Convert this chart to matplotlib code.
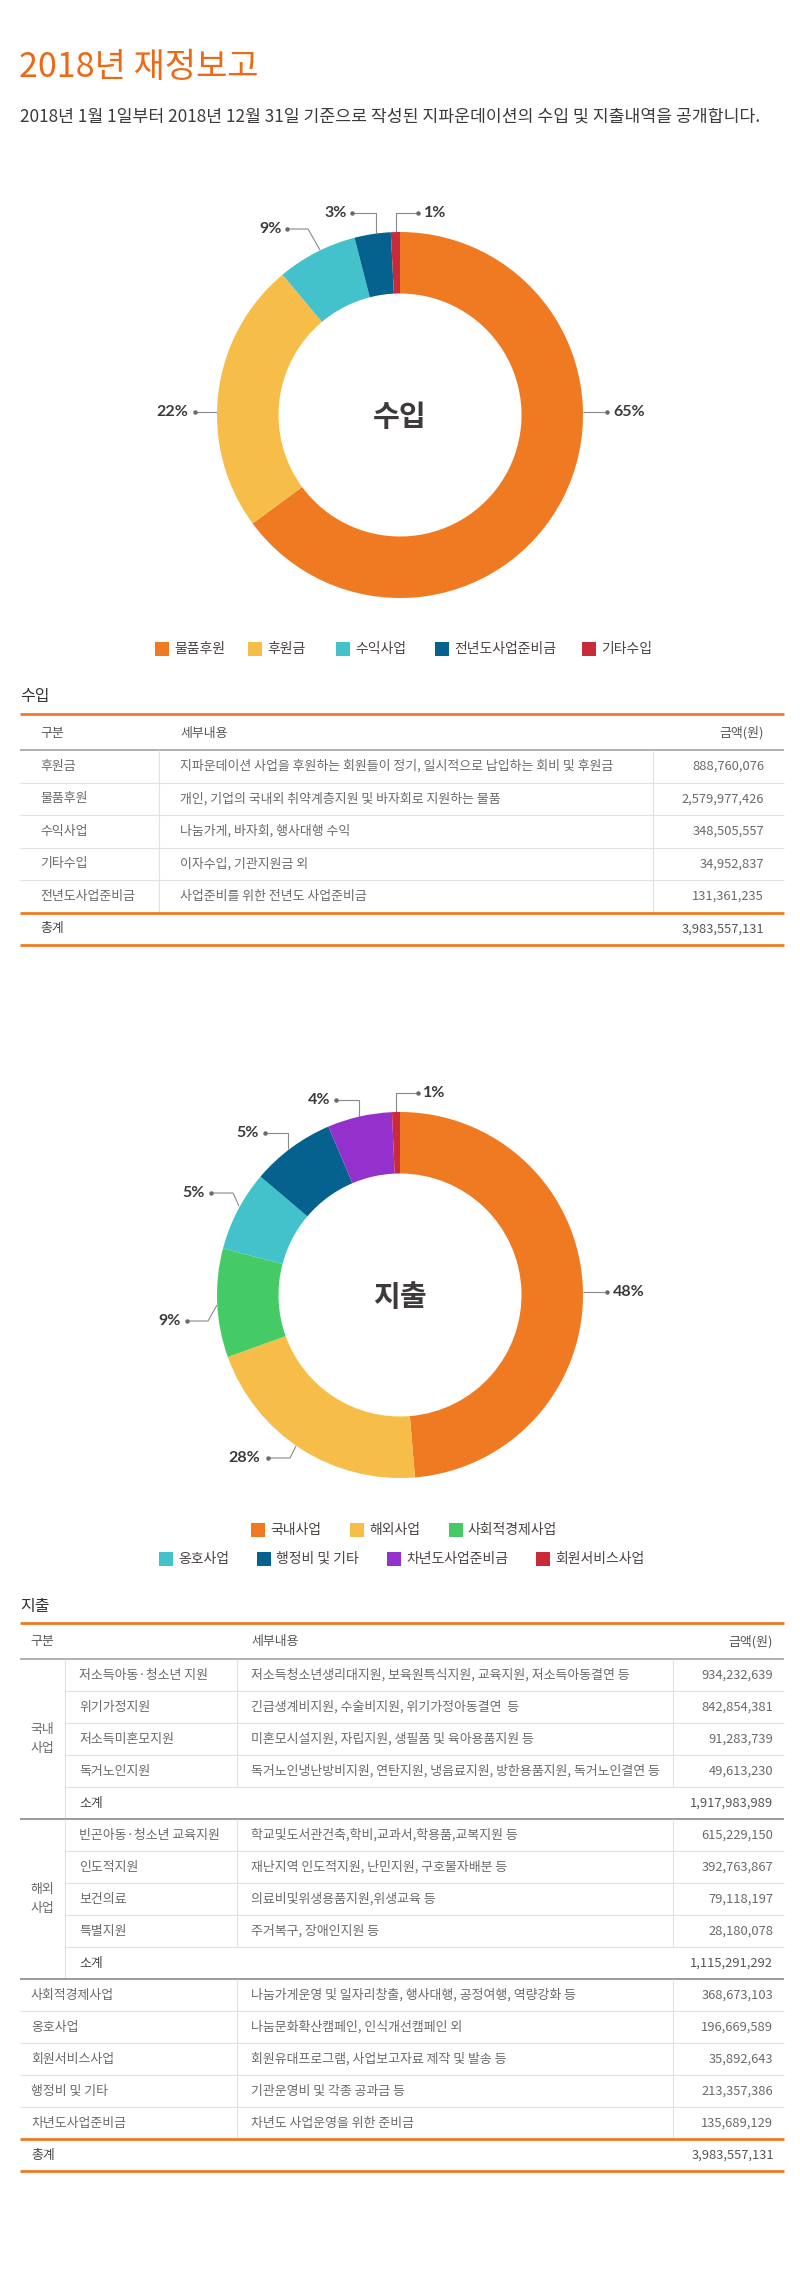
import matplotlib
matplotlib.use("Agg")
import matplotlib.pyplot as plt
from matplotlib.patches import Rectangle

plt.rcParams['font.family'] = ['Noto Sans CJK KR', 'DejaVu Sans']

# ================================================================
# DATA
# ================================================================

title = "2018년 재정보고"
subtitle = ("2018년 1월 1일부터 2018년 12월 31일 기준으로 작성된 "
            "지파운데이션의 수입 및 지출내역을 공개합니다.")

# income donut (clockwise from 12 o'clock), shares
inc_names  = ["물품후원", "후원금", "수익사업", "전년도사업준비금", "기타수입"]
inc_share  = [64.9, 24.0, 7.1, 3.2, 0.8]
inc_pct    = ["65%", "22%", "9%", "3%", "1%"]
inc_colors = ["#F07A22", "#F6BD49", "#44C2CB", "#05628F", "#C92B3A"]

# expense donut (clockwise from 12 o'clock)
exp_names  = ["국내사업", "해외사업", "사회적경제사업", "옹호사업",
              "행정비 및 기타", "차년도사업준비금", "회원서비스사업"]
exp_share  = [48.7, 20.8, 9.6, 7.1, 7.4, 5.7, 0.7]
exp_pct    = ["48%", "28%", "9%", "5%", "5%", "4%", "1%"]
exp_colors = ["#F07A22", "#F6BD49", "#45CB65", "#44C2CB",
              "#05628F", "#9430CB", "#C92B3A"]

# income table
inc_rows = ["후원금", "물품후원", "수익사업", "기타수입", "전년도사업준비금"]
inc_desc = [
    "지파운데이션 사업을 후원하는 회원들이 정기, 일시적으로 납입하는 회비 및 후원금",
    "개인, 기업의 국내외 취약계층지원 및 바자회로 지원하는 물품",
    "나눔가게, 바자회, 행사대행 수익",
    "이자수입, 기관지원금 외",
    "사업준비를 위한 전년도 사업준비금",
]
inc_amt = ["888,760,076", "2,579,977,426", "348,505,557",
           "34,952,837", "131,361,235"]
inc_total = "3,983,557,131"

# expense table
dom_rows = ["저소득아동·청소년 지원", "위기가정지원", "저소득미혼모지원", "독거노인지원"]
dom_desc = [
    "저소득청소년생리대지원, 보육원특식지원, 교육지원, 저소득아동결연 등",
    "긴급생계비지원, 수술비지원, 위기가정아동결연  등",
    "미혼모시설지원, 자립지원, 생필품 및 육아용품지원 등",
    "독거노인냉난방비지원, 연탄지원, 냉음료지원, 방한용품지원, 독거노인결연 등",
]
dom_amt = ["934,232,639", "842,854,381", "91,283,739", "49,613,230"]
dom_sub = "1,917,983,989"

ovs_rows = ["빈곤아동·청소년 교육지원", "인도적지원", "보건의료", "특별지원"]
ovs_desc = [
    "학교및도서관건축,학비,교과서,학용품,교복지원 등",
    "재난지역 인도적지원, 난민지원, 구호물자배분 등",
    "의료비및위생용품지원,위생교육 등",
    "주거복구, 장애인지원 등",
]
ovs_amt = ["615,229,150", "392,763,867", "79,118,197", "28,180,078"]
ovs_sub = "1,115,291,292"

etc_rows = ["사회적경제사업", "옹호사업", "회원서비스사업", "행정비 및 기타", "차년도사업준비금"]
etc_desc = [
    "나눔가게운영 및 일자리창출, 행사대행, 공정여행, 역량강화 등",
    "나눔문화확산캠페인, 인식개선캠페인 외",
    "회원유대프로그램, 사업보고자료 제작 및 발송 등",
    "기관운영비 및 각종 공과금 등",
    "차년도 사업운영을 위한 준비금",
]
etc_amt = ["368,673,103", "196,669,589", "35,892,643", "213,357,386", "135,689,129"]
exp_total = "3,983,557,131"


# ================================================================
# CANVAS  (one axes in pixel units, y pointing down)
# ================================================================

W, H = 800, 2270
fig = plt.figure(figsize=(W / 100, H / 100), dpi=100)
ax = fig.add_axes([0, 0, 1, 1])
ax.set_xlim(0, W)
ax.set_ylim(H, 0)
ax.axis("off")

ORANGE = "#F07A22"
DARK = "#3e3a39"
BODY = "#6a6a6a"
PCT_FONT = ["Lato", "DejaVu Sans"]
TS = 9.3   # table font size

ax.text(19, 67, title, fontsize=24.5, color="#EC6A16", fontweight="medium",
        va="center", ha="left")
ax.text(20, 117, subtitle, fontsize=12.4, color=DARK, va="center", ha="left")


# ── donut helper ────────────────────────────────────────────────
R_OUT, R_IN = 183, 121.5

def donut(cx, cy, shares, colors, label):
    a = fig.add_axes([(cx - R_OUT) / W, 1 - (cy + R_OUT) / H,
                      2 * R_OUT / W, 2 * R_OUT / H])
    a.pie(shares, colors=colors, startangle=90, counterclock=False,
          wedgeprops=dict(width=(R_OUT - R_IN) / R_OUT, linewidth=0))
    a.set_xlim(-1, 1)
    a.set_ylim(-1, 1)
    a.axis("off")
    ax.text(cx, cy + 2, label, fontsize=21, fontweight="bold", color=DARK,
            ha="center", va="center")


def leaders(items, labels):
    for lab, (tx, ty, ha), pts in zip(labels, [i[0] for i in items],
                                      [i[1] for i in items]):
        xs = [p[0] for p in pts]
        ys = [p[1] for p in pts]
        ax.plot(xs, ys, color="#8a8a8a", lw=0.8, solid_capstyle="butt")
        ax.plot(xs[0], ys[0], "o", color="#6a6a6a", ms=2.2)
        ax.text(tx, ty, lab, fontsize=11.5, fontweight="bold", color=DARK,
                ha=ha, va="center", family=PCT_FONT)


def legend_row(xs, y, names, colors):
    for x, n, c in zip(xs, names, colors):
        ax.add_patch(Rectangle((x, y - 7), 14, 14, color=c, lw=0))
        ax.text(x + 19, y, n, fontsize=10, color="#4a4442",
                ha="left", va="center")


# ================================================================
# INCOME DONUT
# ================================================================

donut(400, 415, inc_share, inc_colors, "수입")
leaders([
    ((613, 412, "left"),  [(607, 412), (583, 412)]),
    ((188, 412, "right"), [(195, 412), (217, 412)]),
    ((282, 229, "right"), [(287, 229), (308, 229), (320, 250)]),
    ((347, 213, "right"), [(352, 213), (376, 213), (376, 233)]),
    ((424, 213, "left"),  [(418, 213), (396, 213), (396, 233)]),
], inc_pct)
legend_row([155, 248, 336, 435, 582], 649, inc_names, inc_colors)


# ================================================================
# TABLE HELPERS
# ================================================================

X0, X1 = 20, 784

def hline(y, x0=X0, x1=X1, kind="light"):
    style = {"light": ("#e2e2e2", 0.8), "head": ("#aaaaaa", 1.3),
             "dark": ("#8a8a8a", 1.2), "orange": (ORANGE, 2.0)}[kind]
    ax.hlines(y, x0, x1, colors=style[0], lw=style[1])

def vline(x, y0, y1):
    ax.vlines(x, y0, y1, colors="#e2e2e2", lw=0.8)

def cell(x, y, s, ha="left", color=BODY, size=TS):
    ax.text(x, y, s, fontsize=size, color=color, ha=ha, va="center")


# ================================================================
# INCOME TABLE
# ================================================================

cell(20, 696, "수입", color="#333333", size=11.5)
hline(714, kind="orange")
cell(40, 733, "구분", color="#555555")
cell(180, 733, "세부내용", color="#555555")
cell(764, 733, "금액(원)", ha="right", color="#555555")
hline(750, kind="head")

top, rh = 750, 32.5
for i, (n, d, a) in enumerate(zip(inc_rows, inc_desc, inc_amt)):
    yc = top + (i + 0.5) * rh
    cell(40, yc, n)
    cell(180, yc, d)
    cell(764, yc, a, ha="right")
    if i < len(inc_rows) - 1:
        hline(top + (i + 1) * rh)
bot = top + len(inc_rows) * rh
vline(159, top, bot)
vline(653, top, bot)
hline(bot, kind="orange")
cell(40, bot + rh / 2, "총계", color="#444444")
cell(764, bot + rh / 2, inc_total, ha="right", color="#555555")
hline(bot + rh, kind="orange")


# ================================================================
# EXPENSE DONUT
# ================================================================

donut(400, 1295, exp_share, exp_colors, "지출")
leaders([
    ((613, 1292, "left"),  [(607, 1292), (583, 1292)]),
    ((260, 1458, "right"), [(268, 1458), (290, 1458), (296, 1446)]),
    ((181, 1321, "right"), [(187, 1321), (208, 1321), (217, 1305)]),
    ((205, 1193, "right"), [(211, 1193), (233, 1193), (239, 1206)]),
    ((259, 1133, "right"), [(265, 1133), (288, 1133), (288, 1149)]),
    ((330, 1100, "right"), [(336, 1100), (359, 1100), (359, 1117)]),
    ((423, 1093, "left"),  [(418, 1093), (396, 1093), (396, 1112)]),
], exp_pct)
legend_row([251, 350, 449], 1530, exp_names[:3], exp_colors[:3])
legend_row([159, 257, 387, 536], 1559, exp_names[3:], exp_colors[3:])


# ================================================================
# EXPENSE TABLE
# ================================================================

cell(20, 1606, "지출", color="#333333", size=11.5)
hline(1623, kind="orange")
cell(30, 1642, "구분", color="#555555")
cell(251, 1642, "세부내용", color="#555555")
cell(773, 1642, "금액(원)", ha="right", color="#555555")
hline(1659, kind="head")

top, rh = 1659, 32
y = top
for group, rows, descs, amts, sub in [("국내\n사업", dom_rows, dom_desc, dom_amt, dom_sub),
                                      ("해외\n사업", ovs_rows, ovs_desc, ovs_amt, ovs_sub)]:
    g_top = y
    for n, d, a in zip(rows, descs, amts):
        cell(79, y + rh / 2, n)
        cell(251, y + rh / 2, d)
        cell(773, y + rh / 2, a, ha="right")
        y += rh
        hline(y, x0=65)
    vline(237, g_top, y)
    vline(673, g_top, y)
    cell(79, y + rh / 2, "소계", color="#444444")
    cell(773, y + rh / 2, sub, ha="right", color="#555555")
    y += rh
    vline(65, g_top, y)
    ax.text(42, (g_top + y) / 2, group, fontsize=TS, color=BODY,
            ha="center", va="center", linespacing=1.6)
    hline(y, kind="dark")

g_top = y
for i, (n, d, a) in enumerate(zip(etc_rows, etc_desc, etc_amt)):
    cell(31, y + rh / 2, n)
    cell(251, y + rh / 2, d)
    cell(773, y + rh / 2, a, ha="right")
    y += rh
    if i < len(etc_rows) - 1:
        hline(y)
vline(237, g_top, y)
vline(673, g_top, y)
hline(y, kind="orange")
cell(31, y + rh / 2, "총계", color="#444444")
cell(774, y + rh / 2, exp_total, ha="right", color="#555555")
hline(y + rh, kind="orange")

fig.savefig("out.png", dpi=100, facecolor="white")
